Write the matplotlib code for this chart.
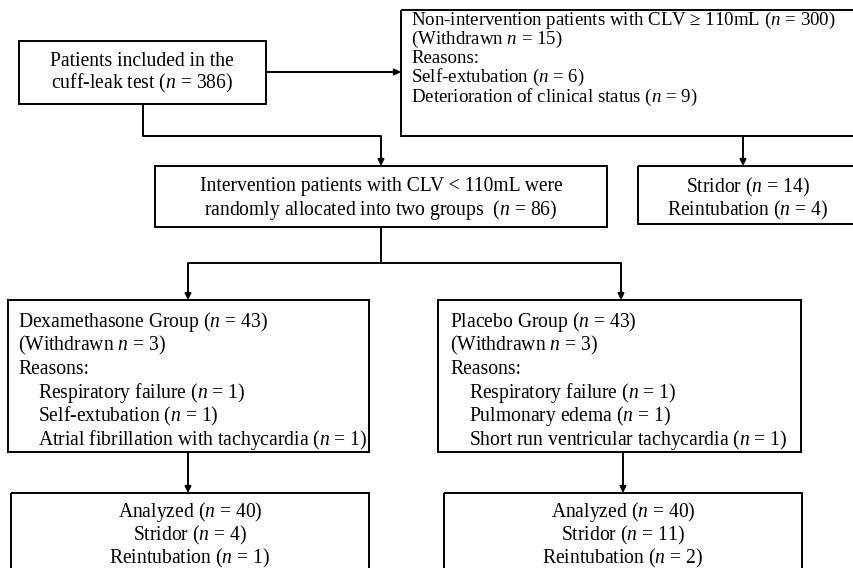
import matplotlib
matplotlib.use("Agg")
import matplotlib.pyplot as plt
from matplotlib.patches import Rectangle

plt.rcParams['font.family'] = ['Liberation Serif', 'DejaVu Serif']
plt.rcParams['mathtext.fontset'] = 'custom'
plt.rcParams['mathtext.rm'] = 'Liberation Serif'
plt.rcParams['mathtext.it'] = 'Liberation Serif:italic'

# ---- data (box texts) ----
included_lines = ["Patients included in the", "cuff-leak test ($n$ = 386)"]
nonint_lines = ["Non-intervention patients with CLV \u2265 110mL ($n$ = 300)",
                "(Withdrawn $n$ = 15)",
                "Reasons:",
                "Self-extubation ($n$ = 6)",
                "Deterioration of clinical status ($n$ = 9)"]
interv_lines = ["Intervention patients with CLV < 110mL were",
                "randomly allocated into two groups  ($n$ = 86)"]
nonint_out_lines = ["Stridor ($n$ = 14)", "Reintubation ($n$ = 4)"]
dexa_head = ["Dexamethasone Group ($n$ = 43)", "(Withdrawn $n$ = 3)", "Reasons:"]
dexa_reasons = ["Respiratory failure ($n$ = 1)", "Self-extubation ($n$ = 1)",
                "Atrial fibrillation with tachycardia ($n$ = 1)"]
plac_head = ["Placebo Group ($n$ = 43)", "(Withdrawn $n$ = 3)", "Reasons:"]
plac_reasons = ["Respiratory failure ($n$ = 1)", "Pulmonary edema ($n$ = 1)",
                "Short run ventricular tachycardia ($n$ = 1)"]
dexa_out = ["Analyzed ($n$ = 40)", "Stridor ($n$ = 4)", "Reintubation ($n$ = 1)"]
plac_out = ["Analyzed ($n$ = 40)", "Stridor ($n$ = 11)", "Reintubation ($n$ = 2)"]

W, H = 854, 568
fig = plt.figure(figsize=(W / 100, H / 100), dpi=100)
ax = fig.add_axes([0, 0, 1, 1])
ax.set_xlim(0, W)
ax.set_ylim(H, 0)
ax.axis('off')

FS = 14.1
FS_B = 13.6
LW = 1.4

def box(x0, y0, x1, y1):
    ax.add_patch(Rectangle((x0, y0), x1 - x0, y1 - y0, fill=False,
                           edgecolor='black', linewidth=LW))

def lines_text(lines, x, y0, dy, ha='left', fs=FS):
    for i, t in enumerate(lines):
        ax.text(x, y0 + i * dy, t, ha=ha, va='center', fontsize=fs, color='black')

def arrow(x0, y0, x1, y1):
    ax.annotate('', xy=(x1, y1), xytext=(x0, y0),
                arrowprops=dict(arrowstyle='-|>', color='black', lw=LW,
                                mutation_scale=9, shrinkA=0, shrinkB=0))

def seg(xs, ys):
    ax.plot(xs, ys, color='black', lw=LW, solid_capstyle='butt')

# boxes
box(19, 41, 266, 104)
lines_text(included_lines, 142, 61, 22, ha='center')

box(401, 10, 870, 136)
lines_text(nonint_lines, 411, 20, 19.3, fs=FS_B)

box(155, 166, 607, 227)
lines_text(interv_lines, 381, 187, 23, ha='center')

box(638, 166, 870, 224)
lines_text(nonint_out_lines, 748, 187, 23, ha='center')

box(8, 300, 369, 452)
lines_text(dexa_head, 18, 322, 23.6)
lines_text(dexa_reasons, 38, 322 + 3 * 23.6, 23.6)

box(438, 300, 801, 452)
lines_text(plac_head, 450, 322, 23.6)
lines_text(plac_reasons, 469, 322 + 3 * 23.6, 23.6)

box(11, 493, 369, 600)
lines_text(dexa_out, 190, 512, 23, ha='center')

box(444, 493, 802, 600)
lines_text(plac_out, 623, 512, 23, ha='center')

# connectors
arrow(266, 72, 401, 72)
seg([143, 143, 381], [104, 136, 136])
arrow(381, 136, 381, 166)
arrow(743, 136, 743, 166)
seg([381, 381], [227, 263])
seg([188, 621], [263, 263])
arrow(188, 263, 188, 300)
arrow(621, 263, 621, 300)
arrow(188, 452, 188, 493)
arrow(623, 452, 623, 493)

fig.savefig("out.png", dpi=100)
